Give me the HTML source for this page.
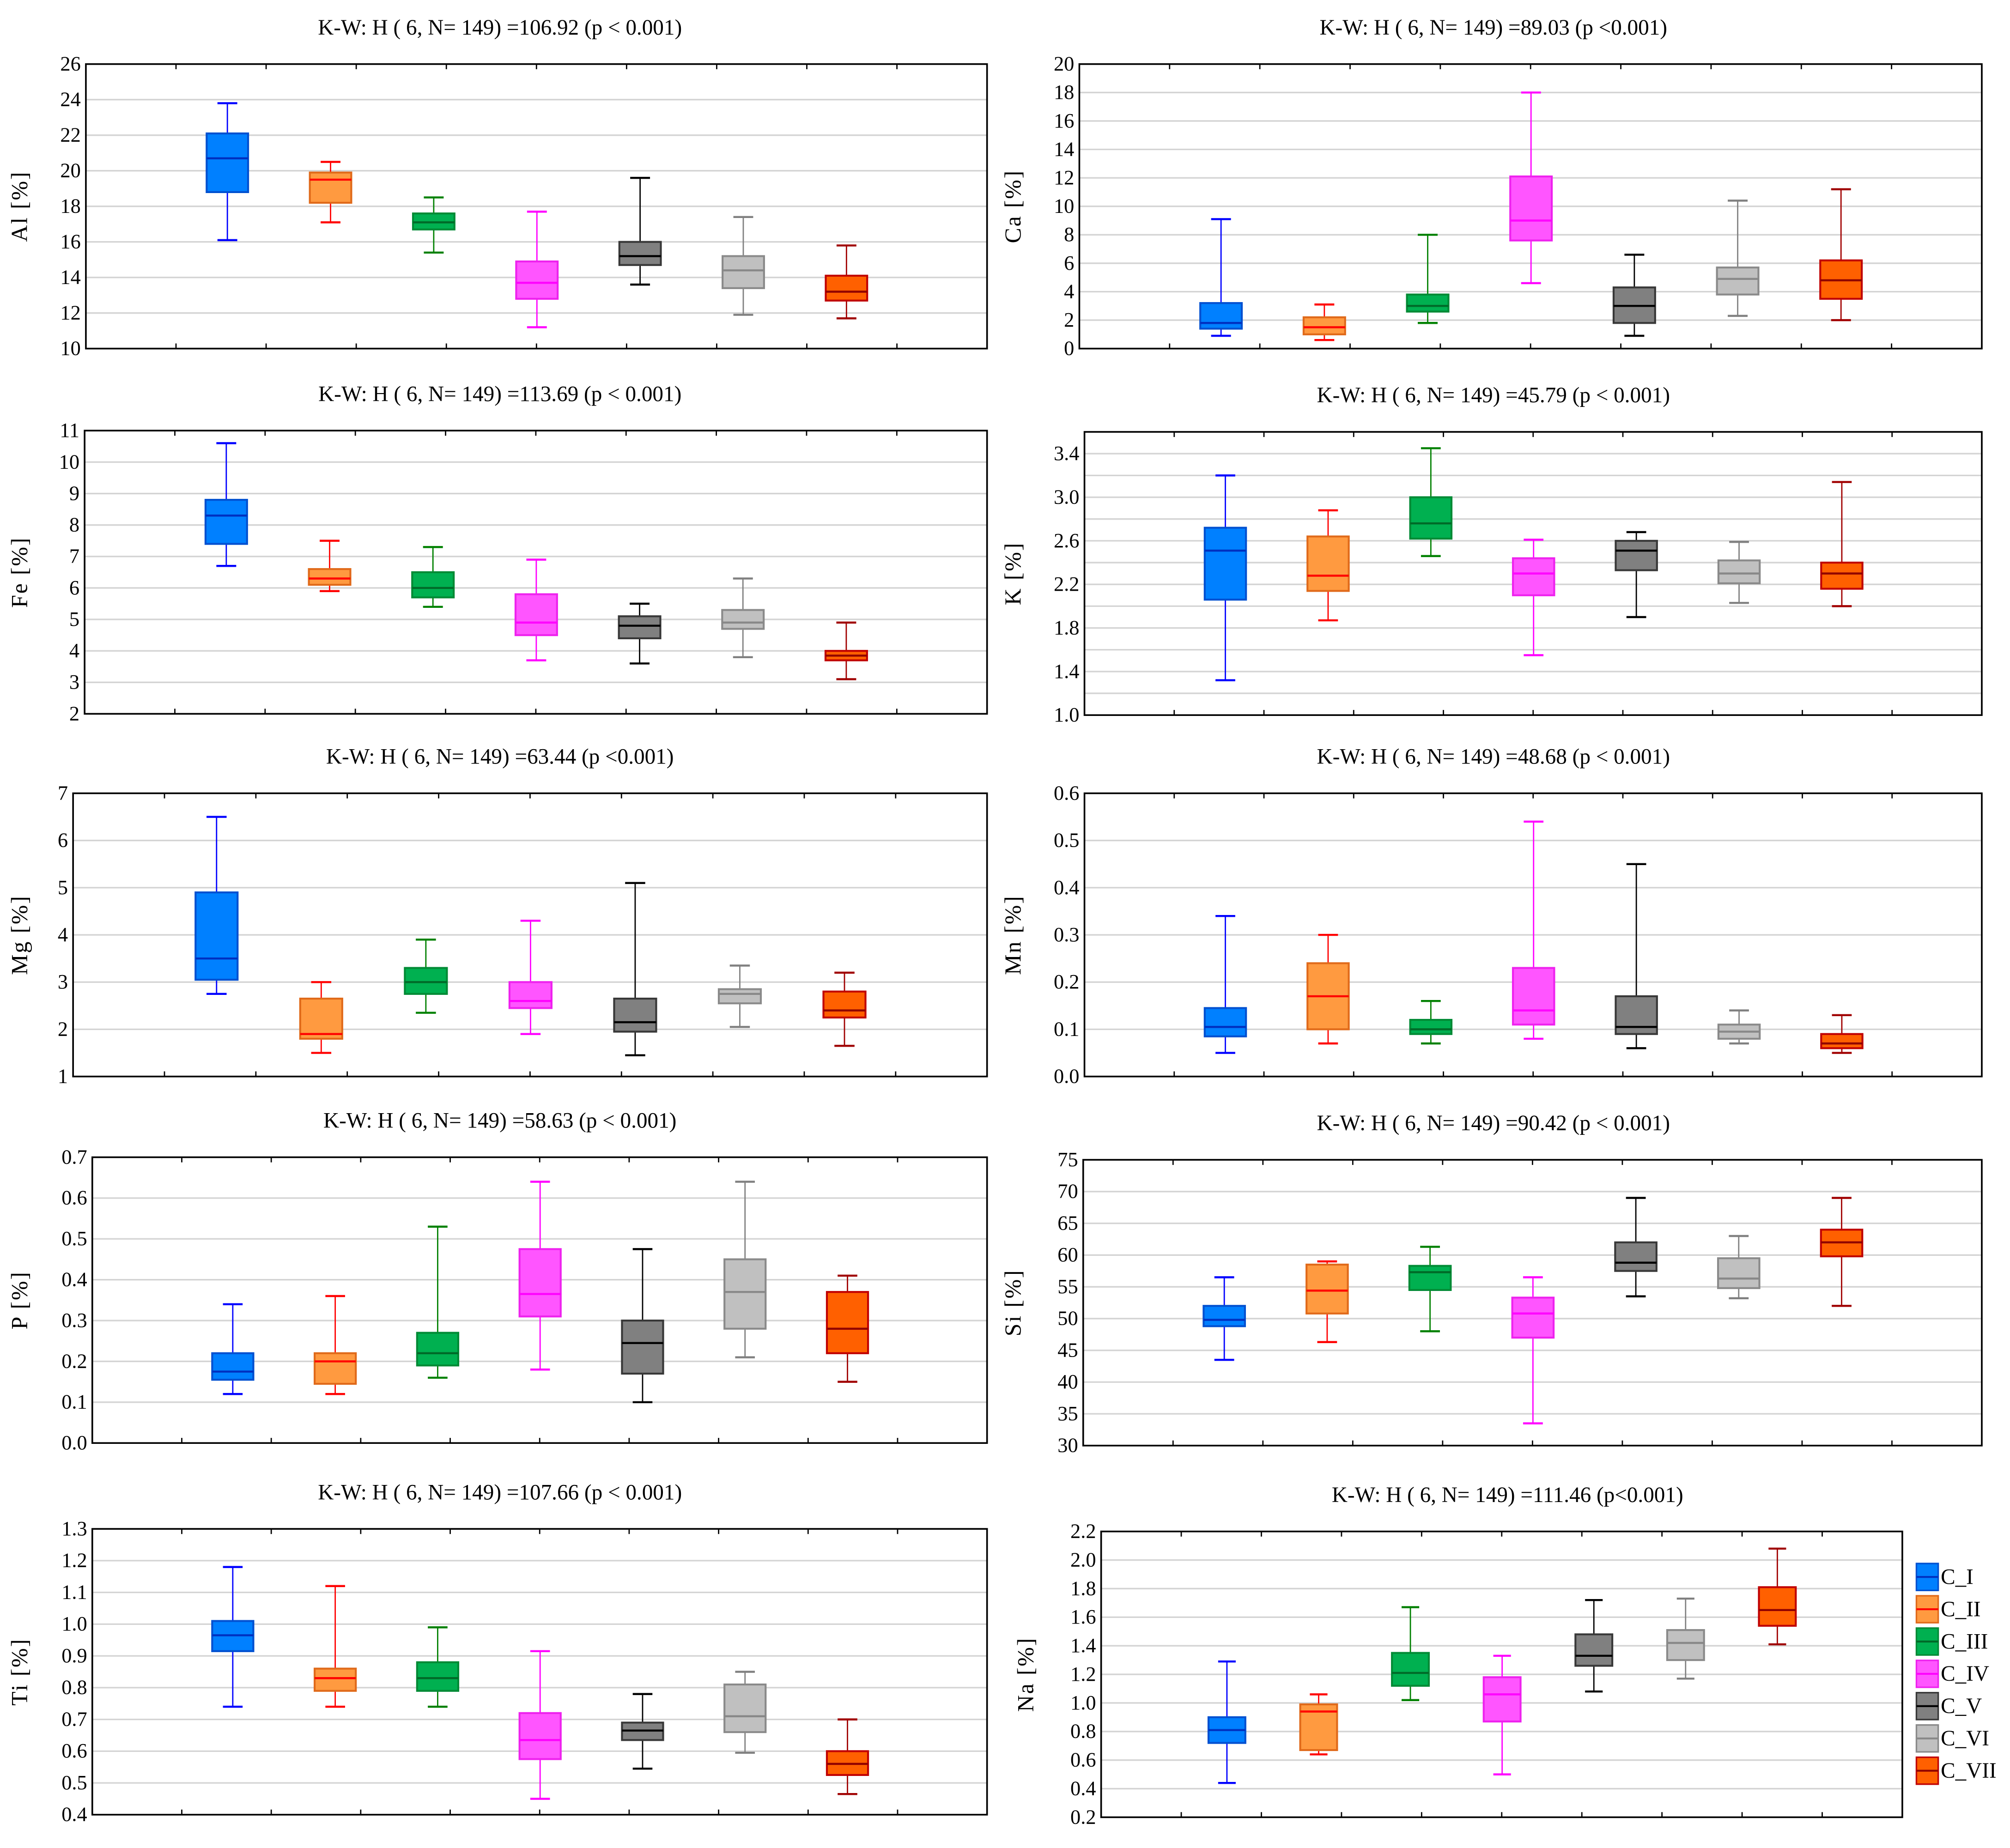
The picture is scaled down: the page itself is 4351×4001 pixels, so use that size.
<!DOCTYPE html>
<html><head><meta charset="utf-8"><style>
html,body{margin:0;padding:0;background:#fff;}
svg{display:block;font-family:"Liberation Serif",serif;}
</style></head><body>
<svg id="chart" xmlns="http://www.w3.org/2000/svg" width="4351" height="4001" viewBox="0 0 1568 1442" preserveAspectRatio="none"></svg>
<script>
const categories = ["C_I","C_II","C_III","C_IV","C_V","C_VI","C_VII"];
// stats per group: [min, q1, median, q3, max]
const alStats = [[16.1,18.8,20.7,22.1,23.8],[17.1,18.2,19.5,19.9,20.5],[15.4,16.7,17.1,17.6,18.5],[11.2,12.8,13.7,14.9,17.7],[13.6,14.7,15.2,16.0,19.6],[11.9,13.4,14.4,15.2,17.4],[11.7,12.7,13.2,14.1,15.8]];
const caStats = [[0.9,1.4,1.8,3.2,9.1],[0.6,1.0,1.5,2.2,3.1],[1.8,2.6,3.0,3.8,8.0],[4.6,7.6,9.0,12.1,18.0],[0.9,1.8,3.0,4.3,6.6],[2.3,3.8,4.9,5.7,10.4],[2.0,3.5,4.8,6.2,11.2]];
const feStats = [[6.7,7.4,8.3,8.8,10.6],[5.9,6.1,6.3,6.6,7.5],[5.4,5.7,6.0,6.5,7.3],[3.7,4.5,4.9,5.8,6.9],[3.6,4.4,4.8,5.1,5.5],[3.8,4.7,4.9,5.3,6.3],[3.1,3.7,3.85,4.0,4.9]];
const kStats = [[1.32,2.06,2.51,2.72,3.2],[1.87,2.14,2.28,2.64,2.88],[2.46,2.62,2.76,3.0,3.45],[1.55,2.1,2.3,2.44,2.61],[1.9,2.33,2.51,2.6,2.68],[2.03,2.21,2.3,2.42,2.59],[2.0,2.16,2.3,2.4,3.14]];
const mgStats = [[2.75,3.05,3.5,4.9,6.5],[1.5,1.8,1.9,2.65,3.0],[2.35,2.75,3.0,3.3,3.9],[1.9,2.45,2.6,3.0,4.3],[1.45,1.95,2.15,2.65,5.1],[2.05,2.55,2.75,2.85,3.35],[1.65,2.25,2.4,2.8,3.2]];
const mnStats = [[0.05,0.085,0.105,0.145,0.34],[0.07,0.10,0.17,0.24,0.30],[0.07,0.09,0.10,0.12,0.16],[0.08,0.11,0.14,0.23,0.54],[0.06,0.09,0.105,0.17,0.45],[0.07,0.08,0.095,0.11,0.14],[0.05,0.06,0.07,0.09,0.13]];
const pStats = [[0.12,0.155,0.175,0.22,0.34],[0.12,0.145,0.20,0.22,0.36],[0.16,0.19,0.22,0.27,0.53],[0.18,0.31,0.365,0.475,0.64],[0.10,0.17,0.245,0.30,0.475],[0.21,0.28,0.37,0.45,0.64],[0.15,0.22,0.28,0.37,0.41]];
const siStats = [[43.5,48.8,49.8,52,56.5],[46.3,50.8,54.4,58.5,59],[48,54.5,57.3,58.3,61.3],[33.5,47,50.8,53.3,56.5],[53.5,57.5,58.8,62,69],[53.2,54.8,56.3,59.5,63],[52,59.8,62,64,69]];
const tiStats = [[0.74,0.915,0.965,1.01,1.18],[0.74,0.79,0.83,0.86,1.12],[0.74,0.79,0.83,0.88,0.99],[0.45,0.575,0.635,0.72,0.915],[0.545,0.635,0.665,0.69,0.78],[0.595,0.66,0.71,0.81,0.85],[0.465,0.525,0.56,0.60,0.70]];
const naStats = [[0.44,0.72,0.81,0.90,1.29],[0.64,0.67,0.94,0.99,1.06],[1.02,1.12,1.21,1.35,1.67],[0.50,0.87,1.06,1.18,1.33],[1.08,1.26,1.33,1.48,1.72],[1.17,1.30,1.42,1.51,1.73],[1.41,1.54,1.65,1.81,2.08]];
const titles = ["K-W: H ( 6, N= 149) =106.92 (p < 0.001)","K-W: H ( 6, N= 149) =89.03 (p <0.001)","K-W: H ( 6, N= 149) =113.69 (p < 0.001)","K-W: H ( 6, N= 149) =45.79 (p < 0.001)","K-W: H ( 6, N= 149) =63.44 (p <0.001)","K-W: H ( 6, N= 149) =48.68 (p < 0.001)","K-W: H ( 6, N= 149) =58.63 (p < 0.001)","K-W: H ( 6, N= 149) =90.42 (p < 0.001)","K-W: H ( 6, N= 149) =107.66 (p < 0.001)","K-W: H ( 6, N= 149) =111.46 (p<0.001)"];
const alTicks=[10,12,14,16,18,20,22,24,26];
const caTicks=[0,2,4,6,8,10,12,14,16,18,20];
const feTicks=[2,3,4,5,6,7,8,9,10,11];
const kTicks=[1.0,1.4,1.8,2.2,2.6,3.0,3.4];
const mgTicks=[1,2,3,4,5,6,7];
const mnTicks=[0.0,0.1,0.2,0.3,0.4,0.5,0.6];
const pTicks=[0.0,0.1,0.2,0.3,0.4,0.5,0.6,0.7];
const siTicks=[30,35,40,45,50,55,60,65,70,75];
const tiTicks=[0.4,0.5,0.6,0.7,0.8,0.9,1.0,1.1,1.2,1.3];
const naTicks=[0.2,0.4,0.6,0.8,1.0,1.2,1.4,1.6,1.8,2.0,2.2];

const fills=["#0080ff","#ff9a40","#00b050","#ff55ff","#808080","#c0c0c0","#ff6000"];
const borders=["#0050d0","#e06a1a","#008a35","#ee22ee","#383838","#8a8a8a","#c00000"];
const meds=["#0030c0","#ff0000","#006a28","#ff00ff","#000000","#888888","#900000"];
const whisk=["#0000ff","#ff0000","#008000","#ff00ff","#000000","#808080","#a00000"];

const panels=[
 {name:"al",lab:"Al [%]",st:alStats,tk:alTicks,dec:0,grid:2,min:10,max:26,x:67,y:50,w:703,h:222,t:0,tx:390,lx:21},
 {name:"ca",lab:"Ca [%]",st:caStats,tk:caTicks,dec:0,grid:2,min:0,max:20,x:842,y:50,w:704,h:222,t:1,tx:1165,lx:796},
 {name:"fe",lab:"Fe [%]",st:feStats,tk:feTicks,dec:0,grid:1,min:2,max:11,x:66,y:336,w:704,h:221,t:2,tx:390,lx:21},
 {name:"k",lab:"K [%]",st:kStats,tk:kTicks,dec:1,grid:0.2,min:1.0,max:3.6,x:846,y:337,w:700,h:221,t:3,tx:1165,lx:796},
 {name:"mg",lab:"Mg [%]",st:mgStats,tk:mgTicks,dec:0,grid:1,min:1,max:7,x:57,y:619,w:713,h:221,t:4,tx:390,lx:21},
 {name:"mn",lab:"Mn [%]",st:mnStats,tk:mnTicks,dec:1,grid:0.1,min:0,max:0.6,x:846,y:619,w:700,h:221,t:5,tx:1165,lx:796},
 {name:"p",lab:"P [%]",st:pStats,tk:pTicks,dec:1,grid:0.1,min:0,max:0.7,x:72,y:903,w:698,h:223,t:6,tx:390,lx:21},
 {name:"si",lab:"Si [%]",st:siStats,tk:siTicks,dec:0,grid:5,min:30,max:75,x:845,y:905,w:701,h:223,t:7,tx:1165,lx:796},
 {name:"ti",lab:"Ti [%]",st:tiStats,tk:tiTicks,dec:1,grid:0.1,min:0.4,max:1.3,x:72,y:1193,w:698,h:223,t:8,tx:390,lx:21},
 {name:"na",lab:"Na [%]",st:naStats,tk:naTicks,dec:1,grid:0.2,min:0.2,max:2.2,x:859,y:1195,w:625,h:223,t:9,tx:1176,lx:806}
];
const svg=document.getElementById('chart');
const NS="http://www.w3.org/2000/svg";
function mk(tag,attrs,parent){const e=document.createElementNS(NS,tag);for(const k in attrs)e.setAttribute(k,attrs[k]);(parent||svg).appendChild(e);return e;}

panels.forEach(p=>{
  const g=mk('g',{});
  
  
  const ys=v=>p.y+p.h-(v-p.min)/(p.max-p.min)*p.h;
  const xs=i=>p.x+p.w*(0.157+i*0.1145);
  const t=mk('text',{x:p.tx,y:p.y-23,'text-anchor':'middle','font-size':17},g);
  t.textContent=titles[p.t];
  
  
  const n=Math.round((p.max-p.min)/p.grid);
  for(let k=1;k<n;k++){const yy=ys(p.min+k*p.grid);
    const gl=mk('line',{x1:p.x,x2:p.x+p.w,y1:yy,y2:yy,stroke:'#d4d4d4','stroke-width':1.2},g);
    
    }
  p.tk.forEach(v=>{const tl=mk('text',{x:p.x-4,y:ys(v)+5,'text-anchor':'end','font-size':16},g);
    tl.textContent=v.toFixed(p.dec);
    
    });
  for(let k=1;k<10;k++){const xx=p.x+p.w*k/10;
    mk('line',{x1:xx,x2:xx,y1:p.y,y2:p.y+4,stroke:'#000','stroke-width':1},g);
    mk('line',{x1:xx,x2:xx,y1:p.y+p.h,y2:p.y+p.h-4,stroke:'#000','stroke-width':1},g);}
  const lx=p.lx, ly=p.y+p.h/2;
  const al=mk('text',{x:lx,y:ly,'text-anchor':'middle','font-size':18,'letter-spacing':'1',transform:`rotate(-90 ${lx} ${ly})`},g);
  al.textContent=p.lab;
  
  
  p.st.forEach((s,i)=>{
    const cx=xs(i), bw=p.w*0.046, cw=p.w*0.022;
    const bg=mk('g',{},g);
    
    
    mk('line',{x1:cx,x2:cx,y1:ys(s[0]),y2:ys(s[4]),stroke:whisk[i],'stroke-width':1},bg);
    mk('line',{x1:cx-cw/2,x2:cx+cw/2,y1:ys(s[0]),y2:ys(s[0]),stroke:whisk[i],'stroke-width':1.6},bg);
    mk('line',{x1:cx-cw/2,x2:cx+cw/2,y1:ys(s[4]),y2:ys(s[4]),stroke:whisk[i],'stroke-width':1.6},bg);
    mk('rect',{x:cx-bw/2,y:ys(s[3]),width:bw,height:ys(s[1])-ys(s[3]),fill:fills[i],stroke:borders[i],'stroke-width':1.5},bg);
    mk('line',{x1:cx-bw/2,x2:cx+bw/2,y1:ys(s[2]),y2:ys(s[2]),stroke:meds[i],'stroke-width':1.6},bg);
  });
  const fr=mk('rect',{x:p.x,y:p.y,width:p.w,height:p.h,fill:'none',stroke:'#000','stroke-width':1.3},g);
  
  
});
const lg=mk('g',{});


categories.forEach((c,i)=>{
  const y0=1220+i*25.2;
  const eg=mk('g',{},lg);
  
  
  mk('rect',{x:1495,y:y0,width:17,height:21,fill:fills[i],stroke:borders[i],'stroke-width':1.2},eg);
  mk('line',{x1:1495,x2:1512,y1:y0+10.5,y2:y0+10.5,stroke:meds[i],'stroke-width':1.5},eg);
  const tx=mk('text',{x:1514,y:y0+16,'font-size':17},eg);
  tx.textContent=c;
});
</script>
</body></html>
